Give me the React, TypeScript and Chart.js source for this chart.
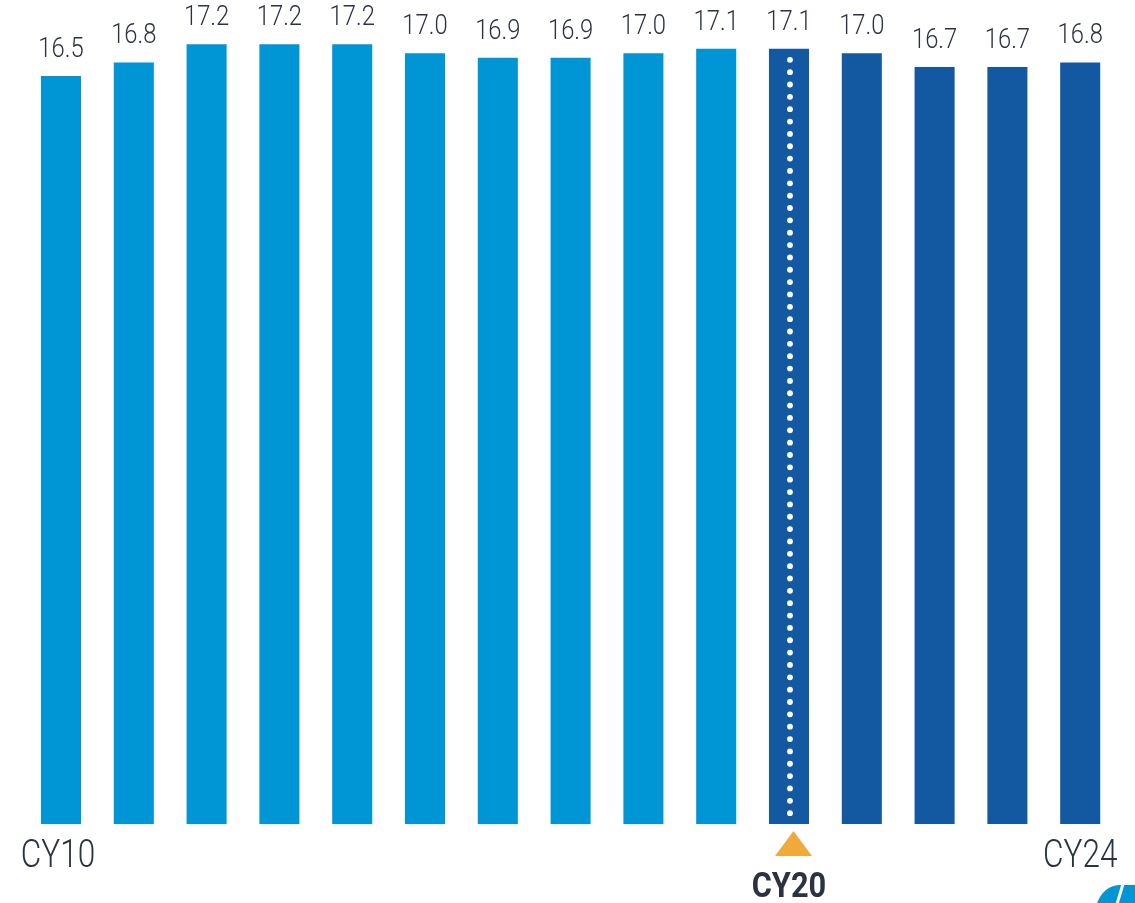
import React, { useEffect, useRef } from "react";
import { Chart, registerables } from "chart.js";

Chart.register(...registerables);

const years = ["CY10", "CY11", "CY12", "CY13", "CY14", "CY15", "CY16", "CY17", "CY18", "CY19", "CY20", "CY21", "CY22", "CY23", "CY24"];
const values = [16.5, 16.8, 17.2, 17.2, 17.2, 17.0, 16.9, 16.9, 17.0, 17.1, 17.1, 17.0, 16.7, 16.7, 16.8];
const shownTicks = ["CY10", "CY24"];
const highlightYear = "CY20";
const forecastFrom = "CY20";

const LIGHT_BLUE = "#0096d6";
const DARK_BLUE = "#1259a1";
const TEXT = "#2b3242";
const ORANGE = "#f0a93b";
const FONT = "Roboto, 'Noto Sans', sans-serif";

// Draws centred text squeezed horizontally to get a narrow face.
function narrowText(ctx: CanvasRenderingContext2D, text: string, x: number, y: number, font: string, squeeze: number) {
  ctx.save();
  ctx.font = font;
  ctx.textAlign = "center";
  ctx.textBaseline = "alphabetic";
  ctx.translate(x, y);
  ctx.scale(squeeze, 1);
  ctx.fillText(text, 0, 0);
  ctx.restore();
}

const decorations = {
  id: "decorations",
  afterDatasetsDraw(chart: any) {
    const { ctx } = chart;
    const meta = chart.getDatasetMeta(0);
    const xs = chart.scales.x;
    ctx.save();

    // value labels above each bar
    ctx.fillStyle = TEXT;
    meta.data.forEach((bar: any, i: number) => {
      narrowText(ctx, values[i].toFixed(1), bar.x, bar.y - 19, `300 28px ${FONT}`, 0.85);
    });

    // dotted marker through the highlighted bar
    const hi = years.indexOf(highlightYear);
    const hb = meta.data[hi];
    ctx.fillStyle = "#ffffff";
    for (let y = hb.y + 11; y <= hb.base - 5; y += 12.35) {
      ctx.beginPath();
      ctx.arc(hb.x + 1, y, 2.9, 0, Math.PI * 2);
      ctx.fill();
    }

    // end tick labels
    ctx.fillStyle = TEXT;
    shownTicks.forEach((t) => {
      const i = years.indexOf(t);
      narrowText(ctx, t, xs.getPixelForValue(i) - (i === 0 ? 3 : 0), 867, `300 38px ${FONT}`, 0.83);
    });

    // highlighted year with triangle
    const hx = xs.getPixelForValue(hi);
    ctx.fillStyle = ORANGE;
    ctx.beginPath();
    ctx.moveTo(hx - 14, 856);
    ctx.lineTo(hx + 23, 856);
    ctx.lineTo(hx + 4.5, 831);
    ctx.closePath();
    ctx.fill();
    ctx.fillStyle = TEXT;
    narrowText(ctx, highlightYear, hx, 897, `bold 35px ${FONT}`, 0.88);

    // corner logo fragment
    ctx.fillStyle = LIGHT_BLUE;
    ctx.beginPath();
    ctx.moveTo(1097, 903);
    ctx.quadraticCurveTo(1104, 886, 1119, 885);
    ctx.lineTo(1135, 885);
    ctx.lineTo(1135, 903);
    ctx.closePath();
    ctx.fill();
    ctx.strokeStyle = "#ffffff";
    ctx.lineWidth = 3;
    ctx.beginPath();
    ctx.moveTo(1123, 884);
    ctx.lineTo(1117, 904);
    ctx.stroke();

    ctx.restore();
  },
};

export default function App() {
  const ref = useRef<HTMLCanvasElement>(null);

  useEffect(() => {
    document.body.style.margin = "0";
    const split = years.indexOf(forecastFrom);
    const chart = new Chart(ref.current!, {
      type: "bar",
      data: {
        labels: years,
        datasets: [
          {
            data: values,
            backgroundColor: values.map((_, i) => (i < split ? LIGHT_BLUE : DARK_BLUE)),
            borderWidth: 0,
            categoryPercentage: 1,
            barPercentage: 0.55,
          },
        ],
      },
      options: {
        animation: false,
        responsive: false,
        devicePixelRatio: 1,
        layout: { padding: { left: 24.6, right: 18.4, top: 8, bottom: 79 } },
        plugins: { legend: { display: false }, tooltip: { enabled: false } },
        scales: {
          x: { display: false, offset: true, grid: { display: false } },
          y: { display: false, min: 0, max: 18 },
        },
      },
      plugins: [decorations],
    });
    return () => chart.destroy();
  }, []);

  return (
    <div style={{ width: 1135, height: 903, background: "#ffffff" }}>
      <canvas ref={ref} width={1135} height={903} />
    </div>
  );
}
